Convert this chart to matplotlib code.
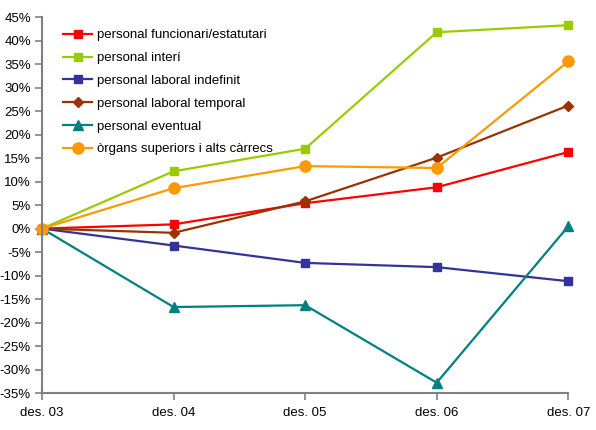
import numpy as np
import matplotlib.pyplot as plt
from matplotlib.ticker import FuncFormatter

plt.rcParams['font.family'] = ['Liberation Sans', 'DejaVu Sans']

# data (percent change vs des. 03)
periods = ['des. 03', 'des. 04', 'des. 05', 'des. 06', 'des. 07']
funcionari = [0.0, 0.9, 5.4, 8.8, 16.3]
interi = [0.0, 12.2, 17.0, 41.8, 43.3]
laboral_indefinit = [0.0, -3.6, -7.3, -8.2, -11.2]
laboral_temporal = [0.0, -0.9, 5.8, 15.1, 26.2]
eventual = [0.0, -16.7, -16.3, -32.8, 0.5]
organs = [0.0, 8.6, 13.3, 12.9, 35.6]

series = [
    ('personal funcionari/estatutari', funcionari, '#FF0000', 's', 6),
    ('personal interí', interi, '#99CC00', 's', 6),
    ('personal laboral indefinit', laboral_indefinit, '#333399', 's', 6),
    ('personal laboral temporal', laboral_temporal, '#993300', 'D', 5.5),
    ('personal eventual', eventual, '#008080', '^', 7),
    ('òrgans superiors i alts càrrecs', organs, '#FF9900', 'o', 8),
]

fig = plt.figure(figsize=(5.96, 4.30), dpi=100)
ax = fig.add_axes([0.0705, 0.086, 0.883, 0.874])

x = np.arange(len(periods))
for name, vals, col, mk, ms in series:
    ax.plot(x, vals, color=col, marker=mk, markersize=ms, linewidth=1.6,
            label=name, markeredgecolor=col, clip_on=False)

ax.set_xlim(0, len(periods) - 1)
ax.set_ylim(-35, 45)
ax.set_yticks(np.arange(-35, 46, 5))
ax.yaxis.set_major_formatter(FuncFormatter(lambda v, p: f'{v:.0f}%'))
ax.set_xticks(x)
ax.set_xticklabels(periods)

for s in ['top', 'right']:
    ax.spines[s].set_visible(False)
for s in ['left', 'bottom']:
    ax.spines[s].set_color('#808080')
    ax.spines[s].set_linewidth(1.5)
ax.tick_params(axis='both', colors='#808080', labelcolor='black', labelsize=9.5,
               length=5, width=1.2)
ax.tick_params(axis='y', pad=3)
ax.tick_params(axis='x', pad=5)

leg = ax.legend(loc='upper left', bbox_to_anchor=(0.03, 0.982), frameon=False,
                fontsize=9.5, handlelength=2.2, labelspacing=0.8, handletextpad=0.35,
                borderaxespad=0)

fig.savefig('out.png', dpi=100)
